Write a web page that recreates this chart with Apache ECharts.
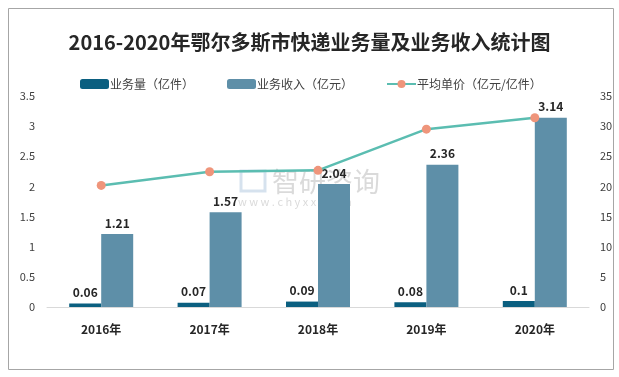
<!DOCTYPE html>
<html><head><meta charset="utf-8">
<script src="https://cdn.jsdelivr.net/npm/echarts@6/dist/echarts.min.js"></script>
<style>html,body{margin:0;padding:0;background:#fff}#c{width:619px;height:377px}</style>
</head><body><div id="c"></div>
<script>
var categories = ['2016年','2017年','2018年','2019年','2020年'];
var volume = [0.06, 0.07, 0.09, 0.08, 0.1];
var revenue = [1.21, 1.57, 2.04, 2.36, 3.14];
var unitPrice = [20.17, 22.43, 22.67, 29.5, 31.4];
var leftTicks = {min: 0, max: 3.5, interval: 0.5};
var rightTicks = {min: 0, max: 35, interval: 5};

var font = '"Noto Sans CJK SC", "Microsoft YaHei", sans-serif';
var chart = echarts.init(document.getElementById('c'));
var labelStyle = {show: true, position: 'top', distance: 5, fontSize: 12, fontWeight: 'bold', color: '#262626', fontFamily: font};
chart.setOption({
  backgroundColor: '#fff',
  animation: false,
  textStyle: {fontFamily: font},
  title: {
    text: '2016-2020年鄂尔多斯市快递业务量及业务收入统计图',
    left: 'center', top: 27,
    textStyle: {fontSize: 20, fontWeight: 'bold', color: '#262626', fontFamily: font}
  },
  legend: {
    left: 75, top: 73,
    itemWidth: 29, itemHeight: 10, itemGap: 33,
    textStyle: {fontSize: 12, color: '#404040', fontFamily: font, padding: [0,0,0,-4]},
    data: ['业务量（亿件）', '业务收入（亿元）', '平均单价（亿元/亿件）']
  },
  grid: {left: 47, right: 30, top: 96, bottom: 70},
  xAxis: {
    type: 'category', data: categories,
    axisLine: {lineStyle: {color: '#d9d9d9'}},
    axisTick: {show: false},
    axisLabel: {fontSize: 12, fontWeight: 'bold', color: '#262626', margin: 16}
  },
  yAxis: [{
    type: 'value', min: leftTicks.min, max: leftTicks.max, interval: leftTicks.interval,
    axisLine: {show: false}, axisTick: {show: false}, splitLine: {show: false},
    axisLabel: {fontSize: 11, color: '#404040', margin: 12}
  }, {
    type: 'value', min: rightTicks.min, max: rightTicks.max, interval: rightTicks.interval,
    axisLine: {show: false}, axisTick: {show: false}, splitLine: {show: false},
    axisLabel: {fontSize: 11, color: '#404040', margin: 11}
  }],
  graphic: [
    {type: 'rect', shape: {x: 8.5, y: 8.5, width: 605, height: 361}, style: {fill: 'none', stroke: '#a6a6a6', lineWidth: 1}, silent: true, z: -1},
    {type: 'text', left: 272, top: 168, style: {text: '智研咨询', fontSize: 27, fill: 'rgba(150,150,150,0.35)', fontFamily: font}, z: 0, silent: true},
    {type: 'text', left: 238, top: 196, style: {text: 'w w w . c h y x x . c o m', fontSize: 11, fill: 'rgba(150,150,150,0.35)', fontFamily: font}, z: 0, silent: true},
    {type: 'rect', shape: {x: 241, y: 171, width: 24, height: 20}, style: {fill: 'none', stroke: 'rgba(120,160,200,0.3)', lineWidth: 3}, z: 0, silent: true}
  ],
  series: [{
    name: '业务量（亿件）', type: 'bar', data: volume, yAxisIndex: 0,
    barWidth: 32, barGap: '0%',
    itemStyle: {color: '#0b5f80'},
    label: labelStyle
  }, {
    name: '业务收入（亿元）', type: 'bar', data: revenue, yAxisIndex: 0,
    barWidth: 32,
    itemStyle: {color: '#5e8fa8'},
    label: labelStyle
  }, {
    name: '平均单价（亿元/亿件）', type: 'line', data: unitPrice, yAxisIndex: 1,
    symbol: 'circle', symbolSize: 9,
    lineStyle: {color: '#5bbdb1', width: 2.5},
    itemStyle: {color: '#ef957b'},
    z: 5
  }]
});
</script></body></html>
